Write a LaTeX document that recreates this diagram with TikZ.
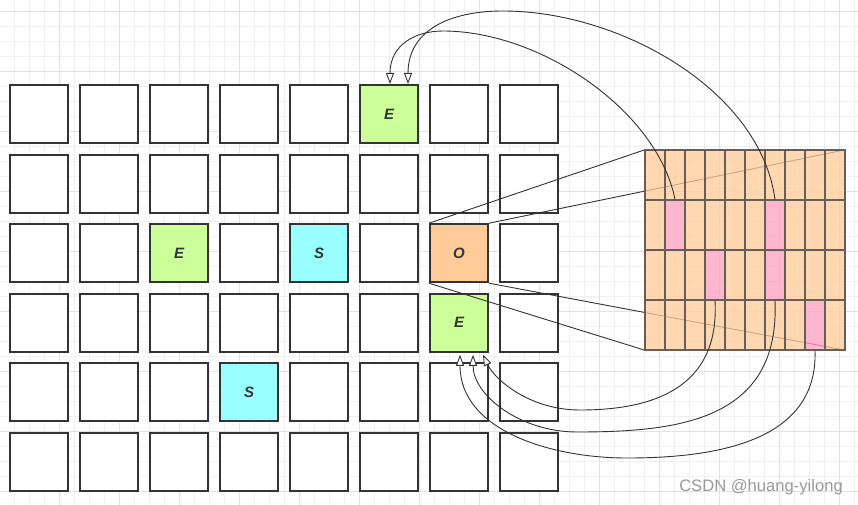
\documentclass[tikz,border=0pt]{standalone}
\usepackage{fontspec}
\setmainfont{Liberation Sans}
\usetikzlibrary{arrows.meta}
\definecolor{ink}{HTML}{333333}
\definecolor{gminor}{HTML}{F0F0F0}
\definecolor{gmajor}{HTML}{E2E2E2}
\definecolor{egreen}{HTML}{CCFF99}
\definecolor{scyan}{HTML}{99FFFF}
\definecolor{oorange}{HTML}{FFCC99}
\definecolor{peach}{HTML}{FFCC99}
\definecolor{pinkc}{HTML}{FF9EC0}
\definecolor{pborder}{HTML}{675E57}
\definecolor{wmark}{HTML}{999999}
\tikzset{
  sq/.style={draw=ink, line width=2pt, fill=white, minimum size=58pt, inner sep=0pt,
    text=ink, font=\fontsize{15}{15}\selectfont\bfseries\itshape},
  sqfill-1-6/.style={fill=egreen},
  sqfill-3-3/.style={fill=egreen},
  sqfill-4-7/.style={fill=egreen},
  sqfill-3-5/.style={fill=scyan},
  sqfill-5-4/.style={fill=scyan},
  sqfill-3-7/.style={fill=oorange},
  pcell/.style={draw=pborder, line width=1.3pt, fill=peach, fill opacity=0.75,
    minimum width=20pt, minimum height=50pt, inner sep=0pt},
  pfill-2-2/.style={fill=pinkc},
  pfill-2-7/.style={fill=pinkc},
  pfill-3-4/.style={fill=pinkc},
  pfill-3-7/.style={fill=pinkc},
  pfill-4-9/.style={fill=pinkc},
  proj/.style={draw=ink, line width=0.9pt},
  link/.style={draw=ink, line width=0.9pt, -{Triangle[length=11pt,width=8pt,fill=white]}},
}
\expandafter\def\csname lbl-1-6\endcsname{E}
\expandafter\def\csname lbl-3-3\endcsname{E}
\expandafter\def\csname lbl-4-7\endcsname{E}
\expandafter\def\csname lbl-3-5\endcsname{S}
\expandafter\def\csname lbl-5-4\endcsname{S}
\expandafter\def\csname lbl-3-7\endcsname{O}
\begin{document}
\begin{tikzpicture}[x=1pt,y=-1pt]
\useasboundingbox (0,0) rectangle (858,505);
\fill[white] (0,0) rectangle (858,505);
% background grid
\foreach \i in {0,...,56} \draw[gminor, line width=1pt] ({14.3+15*\i},0) -- ({14.3+15*\i},505);
\foreach \i in {0,...,33} \draw[gminor, line width=1pt] (0,{11.7+15*\i}) -- (858,{11.7+15*\i});
\foreach \i in {0,...,13} \draw[gmajor, line width=1pt] ({59.3+60*\i},0) -- ({59.3+60*\i},505);
\foreach \i in {0,...,8} \draw[gmajor, line width=1pt] (0,{11.7+60*\i}) -- (858,{11.7+60*\i});
% main grid of squares
\foreach \r in {1,...,6} \foreach \c in {1,...,8} {
  \node[sq, sqfill-\r-\c/.try] (g-\r-\c) at ({39+70*(\c-1)},{114+69.6*(\r-1)})
    {\ifcsname lbl-\r-\c\endcsname\csname lbl-\r-\c\endcsname\fi};
}
% panel frame (invisible) and projection lines
\node[minimum width=200pt, minimum height=200pt, inner sep=0pt] (panel) at (745,250) {};
\draw[proj] (g-3-7.north west) -- (panel.north west);
\draw[proj] (g-3-7.north east) -- (panel.north east);
\draw[proj] (g-3-7.south west) -- (panel.south west);
\draw[proj] (g-3-7.south east) -- (panel.south east);
% panel cells
\foreach \r in {1,...,4} \foreach \c in {1,...,10} {
  \node[pcell, pfill-\r-\c/.try] (p-\r-\c) at ({655+20*(\c-1)},{175+50*(\r-1)}) {};
}
% connectors
\draw[link] (p-2-2.north) .. controls (657,110) and (540,31) .. (443,31)
  .. controls (415,31) and (390,45) .. ([xshift=1pt]g-1-6.north);
\draw[link] (p-2-7.north) .. controls (760,90) and (620,11) .. (503,11)
  .. controls (450,11) and (408,30) .. ([xshift=19pt]g-1-6.north);
\draw[link] (p-3-4.south) .. controls (720,390) and (650,410) .. (580,410)
  .. controls (530,410) and (495,380) .. ([xshift=24pt,yshift=-2pt]g-4-7.south);
\draw[link] (p-3-7.south) .. controls (780,420) and (680,432) .. (577,432)
  .. controls (520,432) and (473,395) .. ([xshift=14pt,yshift=-2pt]g-4-7.south);
\draw[link] (p-4-9.south) .. controls (818,440) and (720,458) .. (627,458)
  .. controls (550,458) and (460,430) .. ([xshift=1pt,yshift=-2pt]g-4-7.south);
% watermark
\node[anchor=base east, inner sep=0pt, text=wmark, font=\fontsize{16.6}{16.6}\selectfont] (wm) at (843,491) {CSDN @huang-yilong};
\end{tikzpicture}
\end{document}
